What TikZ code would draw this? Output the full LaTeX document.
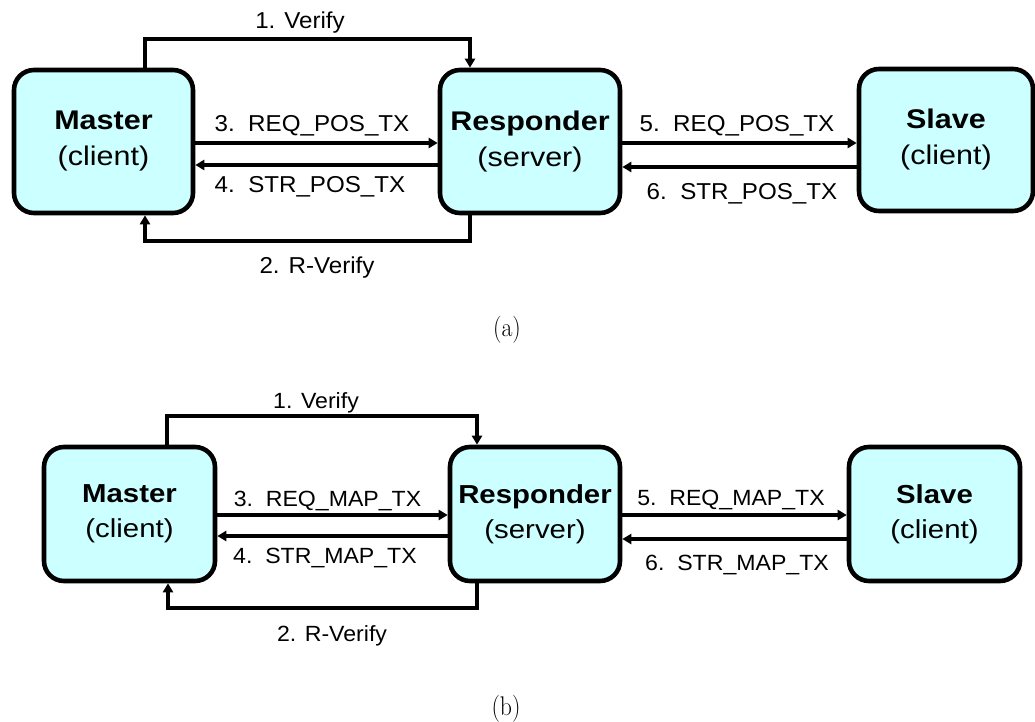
\documentclass[tikz,border=0pt]{standalone}
\usepackage{fontspec}
\usepackage{graphicx}
\usetikzlibrary{arrows.meta}
\newfontfamily\boxfont[FakeStretch=1.13]{Liberation Sans}
\newfontfamily\lblfont[FakeStretch=1.05]{Liberation Sans}
\definecolor{boxcyan}{HTML}{CCFFFF}
\newcommand{\subtag}[1]{\scalebox{0.88}[1]{#1}}
\tikzset{
  unitbox/.style={draw=black, line width=4.6pt, rounded corners=20pt, fill=boxcyan,
    inner sep=0pt, align=center},
  boxa/.style={unitbox, font=\boxfont\fontsize{27}{36}\selectfont},
  boxb/.style={unitbox, font=\boxfont\fontsize{26}{35}\selectfont},
  conn/.style={draw=black, line width=3.2pt, -{Triangle[length=9pt,width=10pt]}},
  lbla/.style={anchor=base, inner sep=0pt, font=\lblfont\fontsize{23}{27}\selectfont},
  lblb/.style={anchor=base, inner sep=0pt, font=\lblfont\fontsize{22}{26}\selectfont},
  subcaption/.style={anchor=base, inner sep=0pt, font=\fontsize{27}{32}\selectfont}
}
\begin{document}
\begin{tikzpicture}[x=1pt, y=-1pt]
\useasboundingbox (0,0) rectangle (1035,722);

% ---------- (a) position exchange ----------
\node[boxa, minimum width=179pt, minimum height=143pt] (ma) at (103.5,141.5)
  {\textbf{Master}\\(client)};
\node[boxa, minimum width=180pt, minimum height=143pt] (ra) at (530,141.5)
  {\textbf{Responder}\\(server)};
\node[boxa, minimum width=174pt, minimum height=142pt] (sa) at (946,140)
  {\textbf{Slave}\\(client)};

\coordinate (va1) at (145,39);
\coordinate (va2) at (470,39);
\coordinate (wa1) at (145,241);
\coordinate (wa2) at (470,241);
\draw[conn] (ma.north -| va1) -- (va1) -- (va2) -- (ra.north -| va2);
\draw[conn] (ra.south -| wa2) -- (wa2) -- (wa1) -- (ma.south -| wa1);
\draw[conn] (ma.east |- 0,143) -- (ra.west |- 0,143);
\draw[conn] (ra.west |- 0,165) -- (ma.east |- 0,165);
\draw[conn] (ra.east |- 0,143) -- (sa.west |- 0,143);
\draw[conn] (sa.west |- 0,167) -- (ra.east |- 0,167);

\node[lbla] (la1) at (300,29) {1. Verify};
\node[lbla] (la3) at (312,132) {3.\ \ REQ\_POS\_TX};
\node[lbla] (la4) at (310,193) {4.\ \ STR\_POS\_TX};
\node[lbla] (la2) at (317,273) {2. R-Verify};
\node[lbla] (la5) at (737,132) {5.\ \ REQ\_POS\_TX};
\node[lbla] (la6) at (742,200) {6.\ \ STR\_POS\_TX};
\node[subcaption] (capa) at (507,336) {\subtag{(a)}};

% ---------- (b) map exchange ----------
\node[boxb, minimum width=171pt, minimum height=134pt] (mb) at (129.5,514)
  {\textbf{Master}\\(client)};
\node[boxb, minimum width=170pt, minimum height=134pt] (rb) at (535,514)
  {\textbf{Responder}\\(server)};
\node[boxb, minimum width=171pt, minimum height=134pt] (sb) at (934.5,514)
  {\textbf{Slave}\\(client)};

\coordinate (vb1) at (167,416);
\coordinate (vb2) at (477,416);
\coordinate (wb1) at (168,608);
\coordinate (wb2) at (477,608);
\draw[conn] (mb.north -| vb1) -- (vb1) -- (vb2) -- (rb.north -| vb2);
\draw[conn] (rb.south -| wb2) -- (wb2) -- (wb1) -- (mb.south -| wb1);
\draw[conn] (mb.east |- 0,515) -- (rb.west |- 0,515);
\draw[conn] (rb.west |- 0,536) -- (mb.east |- 0,536);
\draw[conn] (rb.east |- 0,515) -- (sb.west |- 0,515);
\draw[conn] (sb.west |- 0,539) -- (rb.east |- 0,539);

\node[lblb] (lb1) at (316,408) {1. Verify};
\node[lblb] (lb3) at (327.5,506) {3.\ \ REQ\_MAP\_TX};
\node[lblb] (lb4) at (325,563) {4.\ \ STR\_MAP\_TX};
\node[lblb] (lb2) at (332,641) {2. R-Verify};
\node[lblb] (lb5) at (731,505) {5.\ \ REQ\_MAP\_TX};
\node[lblb] (lb6) at (737,570) {6.\ \ STR\_MAP\_TX};
\node[subcaption] (capb) at (506,715) {\subtag{(b)}};
\end{tikzpicture}
\end{document}
